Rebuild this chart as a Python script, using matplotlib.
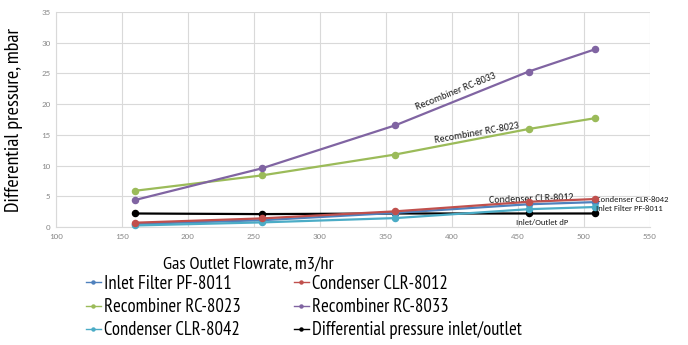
import matplotlib
matplotlib.use("Agg")
import matplotlib.pyplot as plt
from matplotlib import font_manager
from matplotlib.lines import Line2D

# Gas outlet flowrate (m3/hr) and differential pressure (mbar) per component
flow = [160, 256, 357, 458, 508]
inlet_filter_pf8011 = [0.5, 1.1, 2.3, 3.7, 4.05]
condenser_clr8012 = [0.7, 1.4, 2.55, 4.1, 4.55]
recombiner_rc8023 = [5.9, 8.4, 11.8, 15.95, 17.7]
recombiner_rc8033 = [4.4, 9.55, 16.55, 25.3, 28.9]
condenser_clr8042 = [0.25, 0.75, 1.45, 2.9, 3.25]
dp_inlet_outlet = [2.2, 2.1, 2.2, 2.2, 2.2]

series_names = [
    "Inlet Filter PF-8011",
    "Recombiner RC-8023",
    "Condenser CLR-8042",
    "Condenser CLR-8012",
    "Recombiner RC-8033",
    "Differential pressure inlet/outlet",
]
series_values = [
    inlet_filter_pf8011,
    recombiner_rc8023,
    condenser_clr8042,
    condenser_clr8012,
    recombiner_rc8033,
    dp_inlet_outlet,
]
series_colors = ["#4F81BD", "#9BBB59", "#4BACC6", "#C0504D", "#8064A2", "#000000"]
z_order = [3, 3, 3, 4, 3, 2]

xticks = [100, 150, 200, 250, 300, 350, 400, 450, 500, 550]
yticks = [0, 5, 10, 15, 20, 25, 30, 35]

installed = {f.name for f in font_manager.fontManager.ttflist}

fig = plt.figure(figsize=(6.88, 3.45), dpi=100)
renderer = fig.canvas.get_renderer()


def text_width(family, size, s):
    t = fig.text(0, 0, s, family=[family], fontsize=size)
    w = t.get_window_extent(renderer).width
    t.remove()
    return w


# Narrow face for titles and legend: the one whose width best fits the layout
narrow_choices = ["Liberation Sans Narrow", "Archivo Narrow", "PT Sans Narrow",
                  "Roboto Condensed", "Open Sans Condensed", "DejaVu Sans Condensed",
                  "Liberation Sans"]
avail = [n for n in narrow_choices if n in installed] or ["DejaVu Sans"]
main_font = min(avail, key=lambda n: abs(text_width(n, 13.4, series_names[-1]) - 199))
small_font = next((n for n in ["Carlito", "Liberation Sans"] if n in installed), "DejaVu Sans")

plt.rcParams["font.family"] = [main_font, "DejaVu Sans"]

ax = fig.add_axes([56 / 688, 1 - 227 / 345, 594 / 688, 215 / 345])

for name, vals, col, z in zip(series_names, series_values, series_colors, z_order):
    ax.plot(flow, vals, color=col, lw=1.6, marker="o", ms=4.4,
            label=name, zorder=z, clip_on=False)

ax.set_xlim(100, 550)
ax.set_ylim(0, 35)
ax.set_xticks(xticks)
ax.set_yticks(yticks)
ax.tick_params(axis="both", length=0, labelsize=6.5, labelcolor="#8C8C8C", pad=4)
for lbl in ax.get_xticklabels() + ax.get_yticklabels():
    lbl.set_family([small_font, "DejaVu Sans"])
ax.grid(True, color="#D9D9D9", lw=0.8)
ax.set_axisbelow(True)
for side in ["top", "right"]:
    ax.spines[side].set_visible(False)
for side in ["left", "bottom"]:
    ax.spines[side].set_color("#D9D9D9")
    ax.spines[side].set_linewidth(0.8)

ax.set_ylabel("Differential pressure, mbar", fontsize=14.5)
ax.yaxis.set_label_coords(-33 / 594, 0.5)
ax.set_xlabel("Gas Outlet Flowrate, m3/hr", fontsize=13.2)
ax.xaxis.set_label_coords((248 - 56) / 594, -30 / 215)

# In-plot series labels
ann = dict(fontsize=7.2, color="#1A1A1A", ha="center", va="center",
           family=[small_font, "DejaVu Sans"])
ax.text(403, 22.0, "Recombiner RC-8033", rotation=22, **ann)
ax.text(419, 15.3, "Recombiner RC-8023", rotation=10, **ann)
ax.text(460, 4.6, "Condenser CLR-8012", rotation=2, **ann)
side = dict(fontsize=6.2, color="#1A1A1A", va="center", family=[small_font, "DejaVu Sans"])
ax.text(509, 4.45, "Condenser CLR-8042", ha="left", **side)
ax.text(509, 2.95, "Inlet Filter PF-8011", ha="left", **side)
ax.text(468, 0.8, "Inlet/Outlet dP", ha="center", **side)

# Legend in two fixed columns, with thin keys
keys = [Line2D([], [], color=c, lw=1.0, marker="o", ms=2.2, label=n)
        for n, c in zip(series_names, series_colors)]
leg_kw = dict(loc="upper left", fontsize=13.4, frameon=False, handlelength=0.8,
              handletextpad=0.15, labelspacing=0.28,
              borderaxespad=0, borderpad=0)
fig.legend(handles=keys[:3], bbox_to_anchor=(86 / 688, 1 - 275 / 345), **leg_kw)
fig.legend(handles=keys[3:], bbox_to_anchor=(294 / 688, 1 - 275 / 345), **leg_kw)

fig.savefig("out.png", dpi=100)
